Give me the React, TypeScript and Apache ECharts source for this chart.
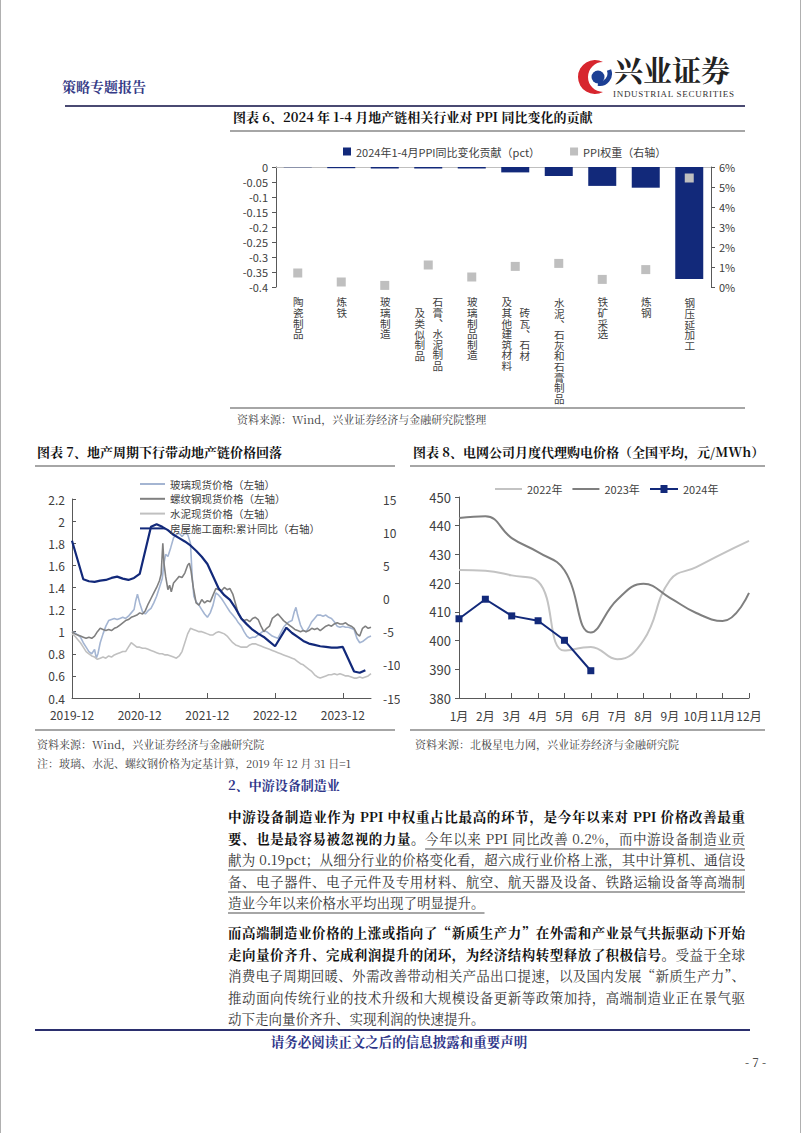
import React, { useEffect, useRef, useState } from 'react';
import * as echarts from 'echarts';

const FONT = "'Noto Sans CJK SC', 'Noto Sans', sans-serif";
const SERIF = "'Noto Serif CJK SC', 'Noto Sans CJK SC', serif";
const NAVY = '#12297a';
const AXIS = '#595959';
const TXT = '#404040';

// ---------- 图表6 data ----------
const ppiCategories = ['陶瓷制品', '炼铁', '玻璃制造', '石膏、水泥制品及类似制品', '玻璃制品制造', '砖瓦、石材及其他建筑材料', '水泥、石灰和石膏制品', '铁矿采选', '炼钢', '钢压延加工'];
const ppiContribution = [-0.001, -0.004, -0.005, -0.005, -0.005, -0.018, -0.03, -0.063, -0.069, -0.373];
const ppiWeight = [0.007, 0.0025, 0.0008, 0.011, 0.005, 0.0103, 0.0118, 0.0038, 0.0087, 0.0545];
const ppiSeriesNames = ['2024年1-4月PPI同比变化贡献（pct）', 'PPI权重（右轴）'];
const labelColumns: Record<string, string[]> = {
  '石膏、水泥制品及类似制品': ['石膏、水泥制品', '及类似制品'],
  '砖瓦、石材及其他建筑材料': ['砖瓦、石材', '及其他建筑材料'],
};

// ---------- 图表7 data (x = months since 2019-12) ----------
const chart7Names = ['玻璃现货价格（左轴）', '螺纹钢现货价格（左轴）', '水泥现货价格（左轴）', '房屋施工面积:累计同比（右轴）'];
const glassPrice: number[][] = [
  [0, 1.0], [0.5, 0.99], [1, 0.97], [1.5, 0.95], [2, 0.9], [2.5, 0.86], [3, 0.82], [3.5, 0.8], [4, 0.84], [4.3, 0.76], [4.6, 0.8],
  [5, 0.9], [5.5, 0.98], [6, 1.05], [6.5, 1.1], [7, 1.11], [7.5, 1.12], [8, 1.11], [8.5, 1.12], [9, 1.13], [9.5, 1.12], [10, 1.14],
  [10.5, 1.17], [11, 1.2], [11.3, 1.28], [11.6, 1.34], [12, 1.26], [12.5, 1.18], [13, 1.16], [13.5, 1.19], [14, 1.21], [14.5, 1.26],
  [15, 1.32], [15.5, 1.4], [16, 1.48], [16.3, 1.62], [16.6, 1.7], [17, 1.68], [17.5, 1.76], [18, 1.85], [18.5, 1.88], [19, 1.89],
  [19.5, 1.86], [20, 1.89], [20.5, 1.88], [21, 1.8], [21.3, 1.5], [21.6, 1.32], [22, 1.27], [22.5, 1.24], [23, 1.2], [23.5, 1.16],
  [24, 1.13], [24.5, 1.17], [25, 1.24], [25.5, 1.35], [26, 1.33], [26.5, 1.3], [27, 1.26], [27.5, 1.22], [28, 1.18], [28.5, 1.15],
  [29, 1.12], [29.5, 1.08], [30, 1.05], [30.5, 1.0], [31, 0.96], [31.5, 0.94], [32, 0.95], [32.5, 0.95], [33, 0.97], [33.5, 0.99],
  [34, 1.01], [34.5, 1.0], [35, 0.98], [35.5, 0.96], [36, 0.95], [36.5, 0.94], [37, 0.99], [37.5, 1.04], [38, 1.07], [38.5, 1.09],
  [39, 1.1], [39.4, 1.18], [39.7, 1.22], [40, 1.15], [40.5, 1.06], [41, 1.01], [41.5, 1.0], [42, 1.04], [42.5, 1.09], [43, 1.12],
  [43.5, 1.15], [44, 1.15], [44.5, 1.14], [45, 1.15], [45.5, 1.13], [46, 1.12], [46.5, 1.09], [47, 1.05], [47.5, 1.04], [48, 1.05],
  [48.5, 1.04], [49, 1.04], [49.5, 1.03], [50, 1.02], [50.5, 0.94], [51, 0.9], [51.5, 0.91], [52, 0.93], [52.5, 0.95], [53, 0.96],
];
const rebarPrice: number[][] = [
  [0, 1.0], [0.5, 0.98], [1, 0.97], [1.5, 0.96], [2, 0.95], [2.5, 0.94], [3, 0.95], [3.5, 0.94], [4, 0.96], [4.5, 1.0], [5, 1.03],
  [5.5, 1.02], [6, 1.01], [6.5, 1.02], [7, 1.01], [7.5, 1.03], [8, 1.04], [8.5, 1.06], [9, 1.08], [9.5, 1.1], [10, 1.11], [10.5, 1.13],
  [11, 1.14], [11.5, 1.15], [12, 1.17], [12.5, 1.16], [13, 1.19], [13.5, 1.25], [14, 1.3], [14.5, 1.35], [15, 1.4], [15.5, 1.46],
  [15.8, 1.52], [16.1, 1.8], [16.3, 1.62], [16.6, 1.5], [17, 1.38], [17.3, 1.42], [17.6, 1.36], [18, 1.44], [18.5, 1.47], [19, 1.5],
  [19.5, 1.49], [20, 1.53], [20.5, 1.6], [20.8, 1.62], [21.1, 1.55], [21.5, 1.4], [22, 1.26], [22.5, 1.24], [23, 1.29], [23.5, 1.26],
  [24, 1.28], [24.5, 1.27], [25, 1.33], [25.5, 1.39], [26, 1.38], [26.5, 1.37], [27, 1.4], [27.5, 1.38], [28, 1.39], [28.5, 1.34],
  [29, 1.25], [29.5, 1.16], [30, 1.12], [30.5, 1.1], [31, 1.11], [31.5, 1.09], [32, 1.12], [32.5, 1.13], [33, 1.11], [33.5, 1.05],
  [34, 1.0], [34.5, 1.03], [35, 1.05], [35.5, 1.12], [36, 1.14], [36.5, 1.16], [37, 1.13], [37.5, 1.1], [38, 1.08], [38.5, 1.06],
  [39, 1.04], [39.5, 1.02], [40, 1.01], [40.5, 1.0], [41, 1.01], [41.5, 1.0], [42, 1.01], [42.5, 1.03], [43, 1.02], [43.5, 1.03],
  [44, 1.01], [44.5, 1.03], [45, 1.05], [45.5, 1.06], [46, 1.05], [46.5, 1.07], [47, 1.08], [47.5, 1.07], [48, 1.07], [48.5, 1.08],
  [49, 1.06], [49.5, 1.05], [50, 1.03], [50.5, 0.98], [51, 0.96], [51.5, 1.03], [52, 1.05], [52.5, 1.03], [53, 1.04],
];
const cementPrice: number[][] = [
  [0, 0.98], [0.5, 0.96], [1, 0.93], [1.5, 0.9], [2, 0.86], [2.5, 0.82], [3, 0.8], [3.5, 0.78], [4, 0.77], [4.5, 0.75], [5, 0.76],
  [5.5, 0.77], [6, 0.76], [6.5, 0.78], [7, 0.77], [7.5, 0.79], [8, 0.8], [8.5, 0.81], [9, 0.82], [9.5, 0.82], [10, 0.86], [10.5, 0.9],
  [11, 0.88], [11.5, 0.86], [12, 0.86], [12.5, 0.85], [13, 0.85], [13.5, 0.84], [14, 0.83], [14.5, 0.82], [15, 0.81], [15.5, 0.8],
  [16, 0.8], [16.5, 0.79], [17, 0.79], [17.5, 0.78], [18, 0.77], [18.5, 0.76], [19, 0.78], [19.5, 0.82], [20, 0.9], [20.5, 0.98],
  [21, 1.03], [21.5, 1.02], [22, 1.01], [22.5, 1.0], [23, 1.0], [23.5, 0.99], [24, 0.98], [24.5, 0.97], [25, 0.97], [25.5, 0.99],
  [26, 1.0], [26.5, 0.99], [27, 0.98], [27.5, 0.96], [28, 0.93], [28.5, 0.9], [29, 0.88], [29.5, 0.87], [30, 0.86], [30.5, 0.86],
  [31, 0.86], [31.5, 0.88], [32, 0.89], [32.5, 0.89], [33, 0.88], [33.5, 0.87], [34, 0.86], [34.5, 0.85], [35, 0.84], [35.5, 0.83],
  [36, 0.82], [36.5, 0.81], [37, 0.8], [37.5, 0.79], [38, 0.78], [38.5, 0.77], [39, 0.76], [39.5, 0.75], [40, 0.73], [40.5, 0.71],
  [41, 0.7], [41.5, 0.68], [42, 0.66], [42.5, 0.64], [43, 0.61], [43.5, 0.59], [44, 0.58], [44.5, 0.59], [45, 0.6], [45.5, 0.61],
  [46, 0.61], [46.5, 0.62], [47, 0.61], [47.5, 0.62], [48, 0.61], [48.5, 0.6], [49, 0.6], [49.5, 0.59], [50, 0.58], [50.5, 0.58],
  [51, 0.59], [51.5, 0.58], [52, 0.59], [52.5, 0.6], [53, 0.62],
];
const constructionYoY: number[][] = [
  [0, 8.7], [2, 2.9], [3, 2.6], [4, 2.5], [5, 2.7], [6, 2.8], [7, 3.1], [8, 3.3], [9, 3.0], [10, 2.8], [11, 3.1], [12, 3.7],
  [14, 10.8], [15, 11.2], [16, 10.8], [17, 10.3], [18, 9.6], [19, 9.1], [20, 8.6], [21, 8.0], [22, 7.2], [23, 6.3], [24, 5.2],
  [26, 1.5], [27, 0.5], [28, -0.2], [29, -1.5], [30, -3.0], [31, -3.9], [32, -4.7], [33, -5.3], [34, -5.8], [35, -6.5], [36, -7.2],
  [38, -4.4], [39, -5.2], [40, -5.8], [41, -6.4], [42, -6.8], [43, -7.0], [44, -7.2], [45, -7.3], [46, -7.4], [47, -7.4], [48, -7.3],
  [50, -11.0], [51, -11.2], [52, -10.8],
];
const chart7LabelMonths = [0, 12, 24, 36, 48];
const chart7TickMonths = [12, 24, 36, 48];

// ---------- 图表8 data ----------
const months = ['1月', '2月', '3月', '4月', '5月', '6月', '7月', '8月', '9月', '10月', '11月', '12月'];
const price2022 = [424.6, 424.3, 422.7, 420.6, 396.5, 397.8, 393.5, 400.1, 421.0, 425.6, 430.3, 434.7];
const price2023 = [442.7, 443.3, 435.7, 430.8, 424.5, 402.8, 414.2, 419.8, 414.9, 409.6, 406.8, 416.6];
const price2024 = [407.6, 414.4, 408.6, 406.9, 400.1, 389.5];

function EChart({ option, style, onReady }: { option: any; style: React.CSSProperties; onReady?: (c: any) => void }) {
  const ref = useRef<HTMLDivElement>(null);
  useEffect(() => {
    const chart = echarts.init(ref.current!, null, { renderer: 'svg' });
    chart.setOption(option);
    if (onReady) onReady(chart);
    return () => chart.dispose();
  }, []);
  return <div ref={ref} style={{ position: 'absolute', ...style }} />;
}

const chart6Option = {
  animation: false,
  textStyle: { fontFamily: FONT },
  legend: {
    left: 168, top: 6, itemWidth: 8, itemHeight: 8, itemGap: 30,
    textStyle: { fontSize: 11, color: TXT },
    data: [{ name: ppiSeriesNames[0], icon: 'rect' }, { name: ppiSeriesNames[1], icon: 'rect' }],
  },
  grid: { left: 106, top: 32, width: 435, height: 120, containLabel: false, outerBoundsMode: 'none' },
  xAxis: [
    { type: 'category', data: ppiCategories, position: 'top', axisLine: { show: true, lineStyle: { color: '#bfbfbf' } }, axisTick: { show: false }, axisLabel: { show: false } },
    { type: 'category', data: ppiCategories, position: 'bottom', axisLine: { show: false }, axisTick: { show: false }, axisLabel: { show: false } },
  ],
  yAxis: [
    {
      type: 'value', min: -0.4, max: 0, interval: 0.05, splitLine: { show: false },
      axisLine: { show: true, lineStyle: { color: AXIS } }, axisTick: { show: true, length: 4, lineStyle: { color: AXIS } },
      axisLabel: { fontSize: 11, color: TXT, margin: 8 },
    },
    {
      type: 'value', min: 0, max: 0.06, interval: 0.01, position: 'right', splitLine: { show: false },
      axisLine: { show: true, lineStyle: { color: AXIS } }, axisTick: { show: true, length: 4, lineStyle: { color: AXIS } },
      axisLabel: { fontSize: 11, color: TXT, margin: 8, formatter: (v: number) => Math.round(v * 100) + '%' },
    },
  ],
  series: [
    { name: ppiSeriesNames[0], type: 'bar', xAxisIndex: 1, yAxisIndex: 0, data: ppiContribution, barWidth: 28, itemStyle: { color: NAVY } },
    { name: ppiSeriesNames[1], type: 'scatter', xAxisIndex: 1, yAxisIndex: 1, data: ppiWeight, symbol: 'rect', symbolSize: 9, itemStyle: { color: '#bfbfbf', opacity: 1 } },
  ],
};

const chart7Option = {
  animation: false,
  textStyle: { fontFamily: FONT },
  legend: {
    orient: 'vertical', left: 105, top: 3, itemWidth: 25, itemHeight: 2, itemGap: 2.8, icon: 'rect',
    textStyle: { fontSize: 10.5, color: TXT, lineHeight: 12 },
    data: chart7Names,
  },
  grid: { left: 42, top: 29, width: 299, height: 199, containLabel: false, outerBoundsMode: 'none' },
  xAxis: {
    type: 'value', min: 0, max: 53, splitLine: { show: false },
    axisLine: { show: true, onZero: false, lineStyle: { color: AXIS } },
    axisTick: { show: true, inside: true, length: 5, customValues: chart7TickMonths, lineStyle: { color: AXIS } },
    axisLabel: { customValues: chart7LabelMonths, fontSize: 12, color: TXT, margin: 10, formatter: (v: number) => `${2019 + Math.round(v / 12)}-12` },
  },
  yAxis: [
    {
      type: 'value', min: 0.4, max: 2.2, interval: 0.2, splitLine: { show: false },
      axisLine: { show: true, lineStyle: { color: AXIS } }, axisTick: { show: true, inside: true, length: 4, lineStyle: { color: AXIS } },
      axisLabel: { fontSize: 12, color: TXT, margin: 7 },
    },
    {
      type: 'value', min: -15, max: 15, interval: 5, position: 'right', splitLine: { show: false },
      axisLine: { show: false }, axisTick: { show: false },
      axisLabel: { fontSize: 12, color: TXT, margin: 12 },
    },
  ],
  series: [
    { name: chart7Names[0], type: 'line', data: glassPrice, symbol: 'none', lineStyle: { width: 1.6, color: '#a4b5d2' }, itemStyle: { color: '#a4b5d2' } },
    { name: chart7Names[1], type: 'line', data: rebarPrice, symbol: 'none', lineStyle: { width: 1.6, color: '#808080' }, itemStyle: { color: '#808080' } },
    { name: chart7Names[2], type: 'line', data: cementPrice, symbol: 'none', lineStyle: { width: 1.6, color: '#c0c0c0' }, itemStyle: { color: '#c0c0c0' } },
    { name: chart7Names[3], type: 'line', yAxisIndex: 1, data: constructionYoY, symbol: 'none', lineStyle: { width: 2.2, color: NAVY }, itemStyle: { color: NAVY } },
  ],
};

const chart8Option = {
  animation: false,
  textStyle: { fontFamily: FONT },
  legend: [
    {
      left: 85, top: 7, itemWidth: 27, itemHeight: 2, itemGap: 10, icon: 'rect',
      textStyle: { fontSize: 11, color: TXT, lineHeight: 14 },
      data: ['2022年', '2023年'],
    },
    {
      left: 240, top: 7, itemWidth: 28, itemHeight: 8,
      textStyle: { fontSize: 11, color: TXT, lineHeight: 14 },
      data: [{ name: '2024年', icon: 'path://M0,3.1H10.5V0H17.5V3.1H28V4.9H17.5V8H10.5V4.9H0Z' }],
    },
  ],
  grid: { left: 54, top: 27, width: 290, height: 201, containLabel: false, outerBoundsMode: 'none' },
  xAxis: {
    type: 'category', data: months, boundaryGap: false,
    axisLine: { show: true, lineStyle: { color: AXIS } },
    axisTick: { show: true, inside: true, length: 5, lineStyle: { color: AXIS } },
    axisLabel: { fontSize: 12, color: TXT, margin: 11, interval: 0 },
  },
  yAxis: {
    type: 'value', min: 380, max: 450, interval: 10, splitLine: { show: false },
    axisLine: { show: true, lineStyle: { color: AXIS } }, axisTick: { show: true, length: 4, lineStyle: { color: AXIS } },
    axisLabel: { fontSize: 13, color: TXT, margin: 8 },
  },
  series: [
    { name: '2022年', type: 'line', data: price2022, smooth: 0.45, symbol: 'none', lineStyle: { width: 2, color: '#c3c3c3' }, itemStyle: { color: '#c3c3c3' } },
    { name: '2023年', type: 'line', data: price2023, smooth: 0.45, symbol: 'none', lineStyle: { width: 2, color: '#7f7f7f' }, itemStyle: { color: '#7f7f7f' } },
    { name: '2024年', type: 'line', data: price2024, symbol: 'rect', symbolSize: 7, lineStyle: { width: 2, color: NAVY }, itemStyle: { color: NAVY } },
  ],
};

const abs = (s: React.CSSProperties): React.CSSProperties => ({ position: 'absolute', ...s });
const hline = (left: number, top: number, width: number, color: string, h = 2) => (
  <div style={abs({ left, top, width, height: h, background: color })} />
);

const lineStyle: React.CSSProperties = { textAlign: 'justify', textAlignLast: 'justify', height: 21.6, lineHeight: '21.6px' } as any;
const lastLine: React.CSSProperties = { textAlign: 'left', height: 21.6, lineHeight: '21.6px' };
const ul: React.CSSProperties = { textDecoration: 'underline', textDecorationColor: '#a6a6a6', textDecorationThickness: '2px', textUnderlineOffset: '4px' };
const b: React.CSSProperties = { fontWeight: 700, color: '#111' };

const CHART6_LEFT = 170;
const CHART6_TOP = 135;
const CAT_CHAR = 10.6;
const CAT_COL = 18;

export default function App() {
  const [catX, setCatX] = useState<number[]>([]);
  const onChart6 = (chart: any) => {
    setCatX(ppiCategories.map((_, i) => chart.convertToPixel({ xAxisIndex: 1 }, i)));
  };
  return (
    <div lang="zh-CN" style={abs({ left: 0, top: 0, width: 802, height: 1133, background: '#fff', overflow: 'hidden', fontFamily: SERIF, color: '#222' })}>
      <div style={abs({ left: 0, top: 0, width: 1, height: 1133, background: '#b0b0b0' })} />
      <div style={abs({ left: 800, top: 0, width: 1, height: 1133, background: '#b0b0b0' })} />

      {/* header */}
      <div style={abs({ left: 62, top: 77, fontSize: 14, lineHeight: '18px', fontWeight: 700, color: '#353a86' })}>策略专题报告</div>
      <svg style={abs({ left: 573, top: 57 })} width={40} height={40} viewBox="0 0 40 40">
        <path d="M30 5 A17 17 0 1 0 30 35 A15 15 0 1 1 30 5 Z" fill="#d7262e" />
        <circle cx={25} cy={20} r={6.5} fill="#1c3f94" />
        <path d="M25 26.5 A10 10 0 0 0 36 13" stroke="#1c3f94" strokeWidth={4.5} fill="none" />
      </svg>
      <div style={abs({ left: 614, top: 58, fontSize: 29, lineHeight: '29px', fontWeight: 700, color: '#222', fontFamily: "'Liberation Serif', 'Noto Serif CJK SC', serif", whiteSpace: 'nowrap' })}>兴业证券</div>
      <div style={abs({ left: 613, top: 89, fontSize: 9, lineHeight: '10px', fontFamily: "'Liberation Serif', serif", letterSpacing: '0.7px', color: '#333', whiteSpace: 'nowrap' })}>INDUSTRIAL SECURITIES</div>
      {hline(65, 105, 680, '#4a4a72')}

      {/* chart 6 */}
      <div style={abs({ left: 233, top: 108, fontSize: 13, lineHeight: '18px', fontWeight: 700, color: '#111', whiteSpace: 'nowrap' })}>图表 6、2024 年 1-4 月地产链相关行业对 PPI 同比变化的贡献</div>
      {hline(230, 130, 515, '#a6a6a6')}
      <EChart option={chart6Option} style={{ left: CHART6_LEFT, top: CHART6_TOP, width: 590, height: 270 }} onReady={onChart6} />
      {catX.map((x, i) => {
        const cols = labelColumns[ppiCategories[i]] || [ppiCategories[i]];
        const rows = Math.max(...cols.map((c) => c.length));
        const w = cols.length * CAT_COL;
        return (
          <div
            key={i}
            style={abs({
              left: CHART6_LEFT + x - w / 2, top: 297, width: w, height: rows * CAT_CHAR + 1,
              writingMode: 'vertical-rl', textAlign: 'center', whiteSpace: 'pre',
              fontFamily: FONT, fontSize: CAT_CHAR, lineHeight: `${CAT_COL}px`, color: TXT,
            })}
          >
            {cols.join('\n')}
          </div>
        );
      })}
      {hline(230, 407, 515, '#a6a6a6')}
      <div style={abs({ left: 237, top: 411, fontSize: 11, lineHeight: '16px', color: TXT, whiteSpace: 'nowrap' })}>资料来源：Wind，兴业证券经济与金融研究院整理</div>

      {/* chart 7 & 8 titles */}
      <div style={abs({ left: 37, top: 443, fontSize: 13, lineHeight: '18px', fontWeight: 700, color: '#111', whiteSpace: 'nowrap' })}>图表 7、地产周期下行带动地产链价格回落</div>
      <div style={abs({ left: 413, top: 443, fontSize: 13, lineHeight: '18px', fontWeight: 700, color: '#111', whiteSpace: 'nowrap' })}>图表 8、电网公司月度代理购电价格（全国平均，元/MWh）</div>
      {hline(35, 465, 360, '#a6a6a6')}
      {hline(410, 465, 355, '#a6a6a6')}
      <EChart option={chart7Option} style={{ left: 30, top: 470, width: 370, height: 256 }} />
      <EChart option={chart8Option} style={{ left: 405, top: 470, width: 370, height: 256 }} />
      {hline(35, 729, 360, '#a6a6a6')}
      {hline(410, 729, 355, '#a6a6a6')}
      <div style={abs({ left: 37, top: 736, fontSize: 11, lineHeight: '16px', color: TXT, whiteSpace: 'nowrap' })}>资料来源：Wind，兴业证券经济与金融研究院</div>
      <div style={abs({ left: 37, top: 755, fontSize: 11, lineHeight: '16px', color: TXT, whiteSpace: 'nowrap' })}>注：玻璃、水泥、螺纹钢价格为定基计算，2019 年 12 月 31 日=1</div>
      <div style={abs({ left: 415, top: 736, fontSize: 11, lineHeight: '16px', color: TXT, whiteSpace: 'nowrap' })}>资料来源：北极星电力网，兴业证券经济与金融研究院</div>

      {/* body text */}
      <div style={abs({ left: 228, top: 776, fontSize: 13, lineHeight: '18px', fontWeight: 700, color: '#2e3589', whiteSpace: 'nowrap' })}>2、中游设备制造业</div>
      <div style={abs({ left: 228, top: 806, width: 517, fontSize: 13.5, color: '#333' })}>
        <div style={lineStyle}><span style={b}>中游设备制造业作为 PPI 中权重占比最高的环节，是今年以来对 PPI 价格改善最重</span></div>
        <div style={lineStyle}><span style={b}>要、也是最容易被忽视的力量。</span><span style={ul}>今年以来 PPI 同比改善 0.2%，而中游设备制造业贡</span></div>
        <div style={lineStyle}><span style={ul}>献为 0.19pct；从细分行业的价格变化看，超六成行业价格上涨，其中计算机、通信设</span></div>
        <div style={lineStyle}><span style={ul}>备、电子器件、电子元件及专用材料、航空、航天器及设备、铁路运输设备等高端制</span></div>
        <div style={lastLine}><span style={ul}>造业今年以来价格水平均出现了明显提升。</span></div>
      </div>
      <div style={abs({ left: 228, top: 922, width: 517, fontSize: 13.5, color: '#333' })}>
        <div style={lineStyle}><span style={b}>而高端制造业价格的上涨或指向了“新质生产力”在外需和产业景气共振驱动下开始</span></div>
        <div style={lineStyle}><span style={b}>走向量价齐升、完成利润提升的闭环，为经济结构转型释放了积极信号。</span>受益于全球</div>
        <div style={lineStyle}>消费电子周期回暖、外需改善带动相关产品出口提速，以及国内发展“新质生产力”、</div>
        <div style={lineStyle}>推动面向传统行业的技术升级和大规模设备更新等政策加持，高端制造业正在景气驱</div>
        <div style={lastLine}>动下走向量价齐升、实现利润的快速提升。</div>
      </div>

      {/* footer */}
      {hline(35, 1029, 715, '#2b2f6e')}
      <div style={abs({ left: 0, top: 1032, width: 798, textAlign: 'center', fontSize: 13.5, lineHeight: '18px', fontWeight: 700, color: '#2e3589' })}>请务必阅读正文之后的信息披露和重要声明</div>
      <div style={abs({ left: 745, top: 1054, fontSize: 12, lineHeight: '16px', color: '#222', whiteSpace: 'nowrap' })}>- 7 -</div>
    </div>
  );
}
